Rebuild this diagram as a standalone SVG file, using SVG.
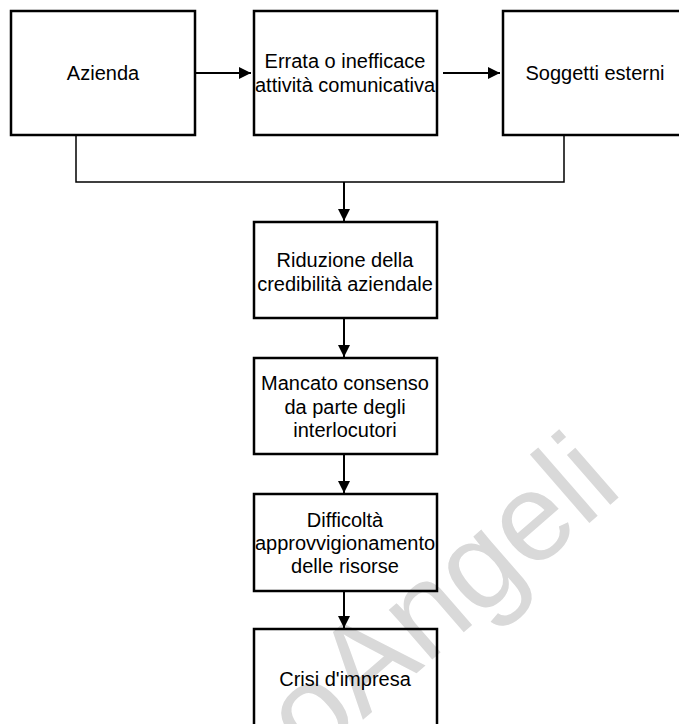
<svg xmlns="http://www.w3.org/2000/svg" width="679" height="724" viewBox="0 0 679 724">
  <style>
    .box { fill: none; stroke: #000; stroke-width: 2.5; }
    .lbl { font-family: "Liberation Sans", Arial, sans-serif; font-size: 20px; fill: #000; text-anchor: middle; }
    .wire { fill: none; stroke: #000; stroke-width: 1.5; }
    .arr { fill: none; stroke: #000; stroke-width: 2; marker-end: url(#head); }
    .mark { font-family: "Liberation Sans", Arial, sans-serif; font-size: 125px; fill: #d9d9d9; text-anchor: end; }
  </style>
  <defs>
    <marker id="head" viewBox="0 0 12 12" refX="12" refY="6" markerWidth="12" markerHeight="12" markerUnits="userSpaceOnUse" orient="auto">
      <path d="M0,0 L12,6 L0,12 Z" fill="#000"/>
    </marker>
  </defs>

  <rect width="679" height="724" fill="#fff"/>

  <!-- background publisher mark -->
  <text class="mark" x="625" y="492" transform="rotate(-41 625 492)">oAngeli</text>

  <g id="connectors">
    <line class="arr" x1="196" y1="73" x2="251" y2="73"/>
    <line class="arr" x1="443" y1="73" x2="500" y2="73"/>
    <polyline class="wire" points="76,136 76,182 564,182 564,136"/>
    <line class="arr" x1="344" y1="182" x2="344" y2="221"/>
    <line class="arr" x1="344" y1="319" x2="344" y2="357"/>
    <line class="arr" x1="344" y1="455" x2="344" y2="493"/>
    <line class="arr" x1="344" y1="592" x2="344" y2="628"/>
  </g>

  <g id="azienda">
    <rect class="box" x="11" y="11" width="184" height="124"/>
    <text class="lbl" x="103" y="80">Azienda</text>
  </g>

  <g id="attivita">
    <rect class="box" x="254" y="11" width="183" height="124"/>
    <text class="lbl" x="345" y="68">Errata o inefficace</text>
    <text class="lbl" x="345" y="92">attività comunicativa</text>
  </g>

  <g id="soggetti">
    <rect class="box" x="503" y="11" width="186" height="124"/>
    <text class="lbl" x="595" y="80">Soggetti esterni</text>
  </g>

  <g id="credibilita">
    <rect class="box" x="254" y="222" width="183" height="96"/>
    <text class="lbl" x="345" y="267">Riduzione della</text>
    <text class="lbl" x="345" y="291">credibilità aziendale</text>
  </g>

  <g id="consenso">
    <rect class="box" x="254" y="358" width="183" height="96"/>
    <text class="lbl" x="345" y="390">Mancato consenso</text>
    <text class="lbl" x="345" y="414">da parte degli</text>
    <text class="lbl" x="345" y="437">interlocutori</text>
  </g>

  <g id="risorse">
    <rect class="box" x="254" y="494" width="183" height="97"/>
    <text class="lbl" x="345" y="527">Difficoltà</text>
    <text class="lbl" x="345" y="550">approvvigionamento</text>
    <text class="lbl" x="345" y="573">delle risorse</text>
  </g>

  <g id="crisi">
    <rect class="box" x="254" y="629" width="183" height="110"/>
    <text class="lbl" x="345" y="686">Crisi d'impresa</text>
  </g>
</svg>
